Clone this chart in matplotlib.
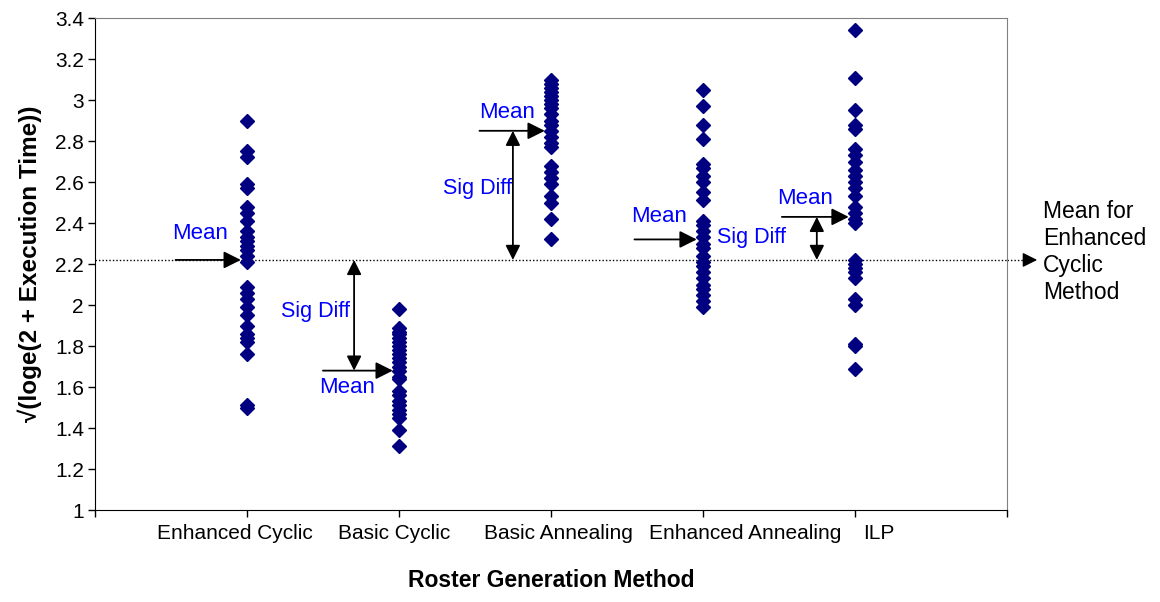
import matplotlib
matplotlib.use('Agg')
import matplotlib.pyplot as plt

plt.rcParams['font.family'] = ['Liberation Sans', 'DejaVu Sans']

methods = ["Enhanced Cyclic", "Basic Cyclic", "Basic Annealing", "Enhanced Annealing", "ILP"]

enhanced_cyclic = [2.90, 2.75, 2.72, 2.59, 2.57, 2.48, 2.45, 2.41, 2.36, 2.33, 2.31, 2.29,
                   2.27, 2.24, 2.21, 2.09, 2.06, 2.03, 1.99, 1.95, 1.90, 1.86, 1.84, 1.82,
                   1.76, 1.51, 1.50]
basic_cyclic = [1.98, 1.89, 1.87, 1.86, 1.84, 1.82, 1.80, 1.78, 1.76, 1.74, 1.72, 1.70,
                1.68, 1.65, 1.64, 1.58, 1.56, 1.53, 1.51, 1.49, 1.47, 1.45, 1.39, 1.31]
basic_annealing = [3.10, 3.08, 3.06, 3.04, 3.02, 3.00, 2.98, 2.96, 2.93, 2.90, 2.88, 2.85,
                   2.82, 2.79, 2.77, 2.68, 2.65, 2.62, 2.59, 2.53, 2.50, 2.42, 2.32]
enhanced_annealing = [3.05, 2.97, 2.88, 2.81, 2.69, 2.67, 2.63, 2.60, 2.55, 2.51, 2.41,
                      2.39, 2.36, 2.33, 2.30, 2.28, 2.24, 2.21, 2.19, 2.16, 2.13, 2.10,
                      2.08, 2.05, 2.02, 1.99]
ilp = [3.34, 3.11, 2.95, 2.88, 2.86, 2.76, 2.73, 2.70, 2.66, 2.63, 2.60, 2.57, 2.53, 2.48,
       2.45, 2.42, 2.40, 2.22, 2.20, 2.18, 2.16, 2.13, 2.03, 2.00, 1.81, 1.80, 1.69]

series = [enhanced_cyclic, basic_cyclic, basic_annealing, enhanced_annealing, ilp]
means = [2.22, 1.68, 2.85, 2.32, 2.43]
ref_mean = 2.22

fig = plt.figure(figsize=(11.6, 6.02), dpi=100)
ax = fig.add_axes([0.0819, 0.1528, 0.786, 0.8172])

for i, vals in enumerate(series):
    ax.plot([i + 1] * len(vals), vals, linestyle='none', marker='D', markersize=7,
            color='#000080', markeredgecolor='#000080', zorder=3)

ax.set_xlim(0, 6)
ax.set_ylim(1, 3.4)
ax.set_xticks(range(7))
ax.set_xticklabels([])
ax.set_yticks([1 + 0.2 * k for k in range(13)])
ax.set_yticklabels(['1', '1.2', '1.4', '1.6', '1.8', '2', '2.2', '2.4', '2.6', '2.8', '3', '3.2', '3.4'])
ax.tick_params(axis='both', direction='out', length=5, width=1, color='black', labelsize=15)
ax.tick_params(axis='y', pad=3)
for side in ['top', 'right']:
    ax.spines[side].set_color('#808080')
for side in ['left', 'bottom']:
    ax.spines[side].set_color('black')

# category labels under the axis
label_x = [0.92, 1.97, 3.05, 4.28, 5.16]
for x, name in zip(label_x, methods):
    ax.text(x, -0.028, name, transform=ax.get_xaxis_transform(), ha='center', va='top',
            fontsize=15)

ax.set_xlabel("Roster Generation Method", fontsize=16.5, fontweight='bold', labelpad=34)
ax.set_ylabel("√(loge(2 + Execution Time))", fontsize=17.5, fontweight='bold', labelpad=9)

# mean of enhanced cyclic, dotted across and out past the plot
ax.plot([0, 6], [ref_mean, ref_mean], linestyle=(0, (1, 1.5)), color='black', linewidth=1)
ax.plot([6, 6.13], [ref_mean, ref_mean], linestyle=(0, (1, 1.5)), color='black',
        linewidth=1, clip_on=False)
ax.annotate('', xy=(6.2, ref_mean), xytext=(6.12, ref_mean),
            arrowprops=dict(arrowstyle='-|>', color='black', lw=1, mutation_scale=22,
                            shrinkA=0, shrinkB=0),
            annotation_clip=False)
ax.text(6.24, ref_mean + 0.29, "Mean for\nEnhanced\nCyclic\nMethod", fontsize=16.5,
        va='top', ha='left', linespacing=1.22, clip_on=False)

head = dict(arrowstyle='-|>', color='black', lw=1.3, mutation_scale=26, shrinkA=0, shrinkB=0)
both = dict(arrowstyle='<|-|>', color='black', lw=1.3, mutation_scale=22, shrinkA=0, shrinkB=0)
blue = '#0000FF'

# mean arrows
mean_arrow_start = [0.53, 1.50, 2.53, 3.55, 4.52]
mean_text_pos = [(0.69, 2.35), (1.66, 1.60), (2.71, 2.94), (3.71, 2.43), (4.67, 2.52)]
for i, (x0, m) in enumerate(zip(mean_arrow_start, means)):
    ax.annotate('', xy=(i + 0.96, m), xytext=(x0, m), arrowprops=head)
    tx, ty = mean_text_pos[i]
    ax.text(tx, ty, "Mean", color=blue, fontsize=16, ha='center', va='center')

# significant difference brackets
sig_x = [1.705, 2.75, 4.75]
sig_span = [(ref_mean, means[1]), (ref_mean, means[2]), (ref_mean, means[4])]
sig_text = [(1.45, 1.97), (2.52, 2.57), (4.32, 2.33)]
for x, (a, b), (tx, ty) in zip(sig_x, sig_span, sig_text):
    ax.annotate('', xy=(x, b), xytext=(x, a), arrowprops=both)
    ax.text(tx, ty, "Sig Diff", color=blue, fontsize=15.5, ha='center', va='center')

fig.savefig('out.png', dpi=100)
